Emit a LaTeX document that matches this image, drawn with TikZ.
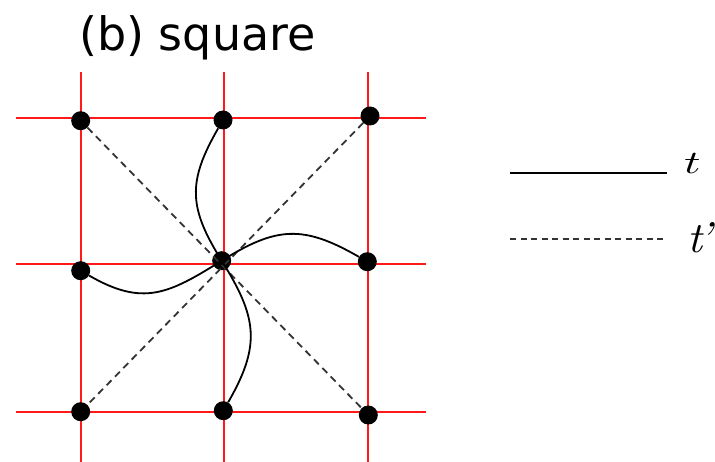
\documentclass[tikz,border=0pt]{standalone}
\usepackage{fontspec}
\newfontfamily\titlefont{DejaVu Sans}
\begin{document}
\begin{tikzpicture}[x=1pt,y=-1pt,
  gridline/.style={red!90!white, line width=1.8pt},
  dot/.style={circle, fill=black, minimum size=19pt, inner sep=0pt},
  hop/.style={black, line width=1.8pt},
  hopd/.style={black!80, line width=1.8pt, dash pattern=on 7pt off 5pt},
  lbl/.style={inner sep=0pt, anchor=base west}]
\useasboundingbox (0,0) rectangle (715,462);
% grid
\foreach \x in {80.7,224,368} \draw[gridline] (\x,72) -- (\x,462);
\foreach \y in {118,264,412} \draw[gridline] (16,\y) -- (426,\y);
% title
\node[lbl] (title) at (79,51) {\titlefont\fontsize{46}{50}\selectfont (b) square};
% sites
\node[dot] (TL) at (80.7,120.7) {};
\node[dot] (TM) at (223,120) {};
\node[dot] (TR) at (370,116) {};
\node[dot] (ML) at (80.7,270.7) {};
\node[dot] (C)  at (221.7,260.7) {};
\node[dot] (MR) at (367.3,261.7) {};
\node[dot] (BL) at (80.7,411.7) {};
\node[dot] (BM) at (223.3,410.7) {};
\node[dot] (BR) at (368.3,415) {};
% next-nearest (dashed)
\draw[hopd] (TL) -- (BR);
\draw[hopd] (TR) -- (BL);
% nearest (curved)
\draw[hop] (C.center) to[out=122,in=240,looseness=1.2] (TM);
\draw[hop] (C.center) to[out=32,in=150,looseness=1.2] (MR);
\draw[hop] (C.center) to[out=212,in=330,looseness=1.2] (ML);
\draw[hop] (C.center) to[out=302,in=60,looseness=1.2] (BM);
% legend
\coordinate (s1) at (510,172.7);
\coordinate (s2) at (667,172.7);
\coordinate (d1) at (510,239.5);
\coordinate (d2) at (667,239.5);
\draw[hop, line width=2pt] (s1) -- (s2);
\draw[hopd, line width=2pt, dash pattern=on 6pt off 4.5pt] (d1) -- (d2);
\node[lbl] (tlab) at (684,174) {\resizebox{16.5pt}{20pt}{$t$}};
\node[lbl] (tplab) at (687,253) {\resizebox{25pt}{30pt}{\itshape t\kern-0.08em'}};
\end{tikzpicture}
\end{document}
